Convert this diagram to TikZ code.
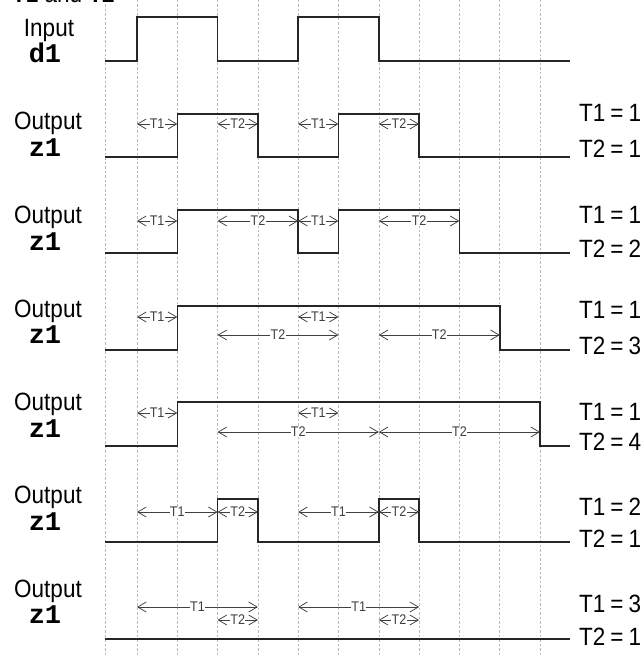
\documentclass[tikz,border=0pt]{standalone}
\usepackage{fontspec}
\setmainfont{Liberation Sans}[FakeStretch=0.9]
\setmonofont{Liberation Mono}
\usetikzlibrary{arrows.meta}
\begin{document}
\begin{tikzpicture}[x=1pt,y=-1pt,
  wave/.style={line width=1.6pt, draw=black!85, line join=miter},
  gridline/.style={draw=gray!55, line width=0.5pt, dash pattern=on 2.5pt off 2pt},
  tarr/.style={{Straight Barb[length=8.5pt,width=10pt]}-{Straight Barb[length=8.5pt,width=10pt]}, line width=0.75pt, draw=black!75},
  tlab/.style={fill=white, inner sep=0.3pt, font=\fontsize{14}{14}\selectfont, text=black!75},
  lab/.style={font=\fontsize{25}{25}\selectfont, anchor=base, inner sep=0pt},
  sig/.style={font=\fontsize{27}{27}\selectfont\ttfamily\bfseries, anchor=base, inner sep=0pt},
  parm/.style={font=\fontsize{25}{25}\selectfont, anchor=base west, inner sep=0pt}]
\useasboundingbox (0,0) rectangle (643,655);
\clip (0,0) rectangle (643,655);
\fill[white] (0,0) rectangle (643,655);
% grid
\foreach \x in {105,137,177.3,217.6,257.9,298.2,338.5,378.8,419.1,459.4,499.7,540}
  \draw[gridline] (\x,0) -- (\x,655);
% heading (cut off at the top edge, as in the reference)
\node[parm] (head) at (12,3) {\textbf{T1} and \textbf{T2}};
% left labels
\node[lab] (in0) at (49,37) {Input};
\node[sig] (d1) at (45,63) {d1};
\foreach \b/\z [count=\i] in {130/157,223/250,317/343,410/437,503/530,597/623}{
  \node[lab] (out\i) at (48,\b) {Output};
  \node[sig] (z\i) at (45,\z) {z1};
}
% right labels
\foreach \a/\va/\b/\vb [count=\i] in {122/1/158/1,223/1/257/2,318/1/354/3,420/1/450/4,515/2/547/1,612/3/645/1}{
  \node[parm] (pa\i) at (579,\a) {T1\hspace{5pt}=\hspace{5pt}\va};
  \node[parm] (pb\i) at (579,\b) {T2\hspace{5pt}=\hspace{5pt}\vb};
}
% waveforms
\draw[wave] (105,61) -| (137,17) -| (217.6,61) -| (298.2,17) -| (378.8,61) -- (570,61);
\draw[wave] (105,157) -| (177.3,114) -| (257.9,157) -| (338.5,114) -| (419.1,157) -- (570,157);
\draw[wave] (105,253) -| (177.3,210) -| (298.2,253) -| (338.5,210) -| (459.4,253) -- (570,253);
\draw[wave] (105,350) -| (177.3,306) -| (499.7,350) -- (570,350);
\draw[wave] (105,446) -| (177.3,402) -| (540,446) -- (570,446);
\draw[wave] (105,542) -| (217.6,499) -| (257.9,542) -| (378.8,499) -| (419.1,542) -- (570,542);
\draw[wave] (105,639) -- (570,639);
% timing arrows
\foreach \xa/\xb/\y/\t in {
  137/177.3/124/T1, 217.6/257.9/124/T2, 298.2/338.5/124/T1, 378.8/419.1/124/T2,
  137/177.3/221/T1, 217.6/298.2/221/T2, 298.2/338.5/221/T1, 378.8/459.4/221/T2,
  137/177.3/317/T1, 298.2/338.5/317/T1, 217.6/338.5/335/T2, 378.8/499.7/335/T2,
  137/177.3/413/T1, 298.2/338.5/413/T1, 217.6/378.8/432/T2, 378.8/540/432/T2,
  137/217.6/512/T1, 217.6/257.9/512/T2, 298.2/378.8/512/T1, 378.8/419.1/512/T2,
  137/257.9/607/T1, 298.2/419.1/607/T1, 217.6/257.9/620/T2, 378.8/419.1/620/T2}
  \draw[tarr] (\xa,\y) -- node[tlab]{\t} (\xb,\y);
\end{tikzpicture}
\end{document}
